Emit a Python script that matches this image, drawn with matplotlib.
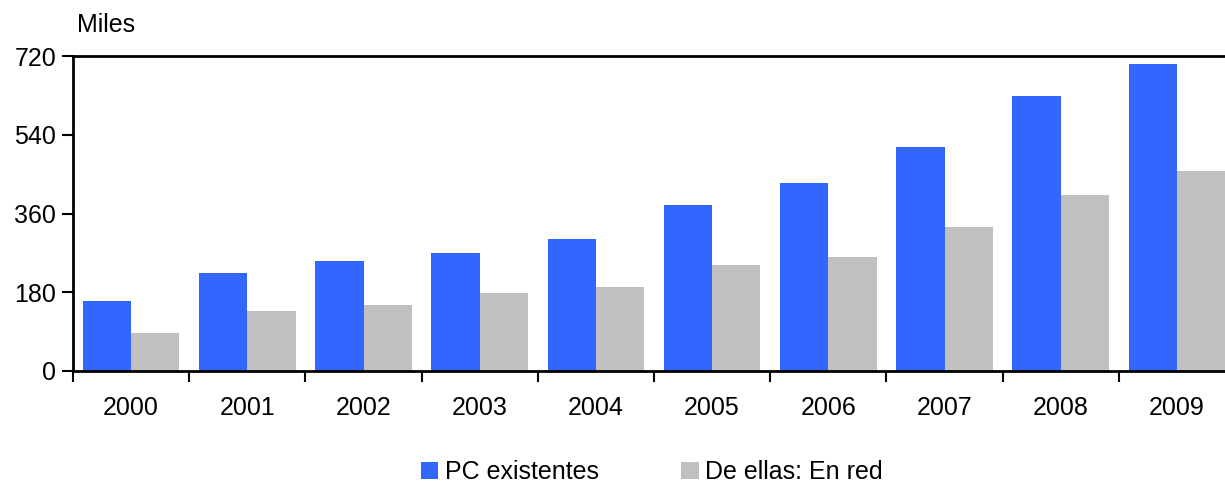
import numpy as np
import matplotlib
matplotlib.use("Agg")
import matplotlib.pyplot as plt

plt.rcParams['font.family'] = ['Liberation Sans', 'DejaVu Sans']

years = ["2000", "2001", "2002", "2003", "2004", "2005", "2006", "2007", "2008", "2009"]
pc_total = [160, 224, 251, 270, 302, 379, 430, 512, 629, 702]
pc_red = [87, 137, 151, 178, 192, 242, 261, 329, 402, 457]
yticks = [0, 180, 360, 540, 720]

blue = "#3366ff"
grey = "#c0c0c0"

fig = plt.figure(figsize=(12.25, 4.83), dpi=100)
# axes box runs slightly past the right edge, like the original
ax = fig.add_axes([73/1225, 1-371/483, 1162/1225, 315/483])

x = np.arange(len(years))
w = 0.415
ax.bar(x - w/2, pc_total, width=w, color=blue, label="PC existentes")
ax.bar(x + w/2, pc_red, width=w, color=grey, label="De ellas: En red")

ax.set_xlim(-0.5, len(years) - 0.5)
ax.set_ylim(0, 720)
ax.set_yticks(yticks)
ax.set_yticklabels([str(v) for v in yticks], fontsize=18)

# ticks on category edges, labels in the middle
ax.set_xticks(np.arange(len(years)) - 0.5)
ax.set_xticklabels([])
ax.set_xticks(x, minor=True)
ax.set_xticklabels(years, minor=True, fontsize=18)
ax.tick_params(axis='x', which='minor', length=0, pad=18)
ax.tick_params(axis='x', which='major', length=8, width=1.5, direction='out')
ax.tick_params(axis='y', length=8, width=1.5, direction='out', pad=4)

for s in ["left", "bottom", "top"]:
    ax.spines[s].set_linewidth(2)
ax.spines["right"].set_visible(False)

fig.text(77/1225, 1-25/483, "Miles", fontsize=18, va='center', ha='left')

fig.legend(loc='lower center', bbox_to_anchor=(0.532, -0.028), ncol=2, frameon=False,
           fontsize=18, handlelength=0.7, handleheight=0.7, handletextpad=0.25,
           columnspacing=3.3, borderpad=0)

fig.savefig("out.png", dpi=100)
